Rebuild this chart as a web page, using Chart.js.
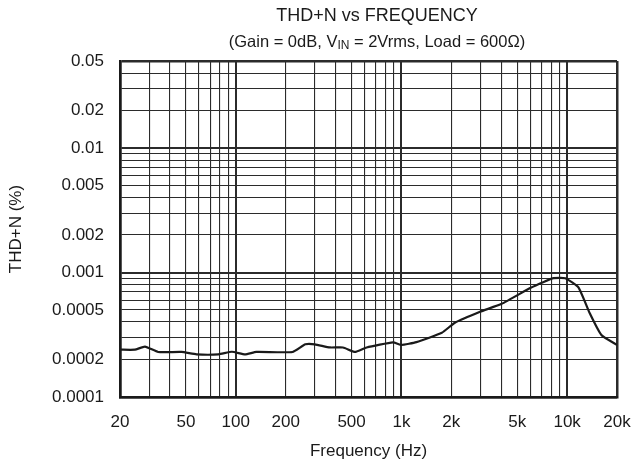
<!DOCTYPE html>
<html>
<head>
  <script src="https://cdn.jsdelivr.net/npm/chart.js@4"></script>
  <style>
    html, body { margin: 0; padding: 0; background: #fff; }
  </style>
</head>
<body>
  <canvas id="thd" width="633" height="466"></canvas>
  <script>
    // frequency (Hz) and THD+N (%)
    const freqHz = [20, 24.6, 28.3, 34, 47, 58, 78.6, 94.7, 113.7, 133, 220, 263, 300, 370, 444, 524, 616, 889, 1000, 1231, 1753, 2100, 2980, 4025, 5980, 7220, 8300, 9750, 11700, 13700, 16100, 20000];
    const thdPct = [0.00024, 0.00024, 0.000254, 0.00023, 0.00023, 0.00022, 0.00022, 0.000231, 0.00022, 0.00023, 0.00023, 0.000265, 0.000265, 0.00025, 0.00025, 0.00023, 0.00025, 0.000275, 0.000262, 0.000276, 0.000328, 0.000395, 0.000484, 0.00056, 0.00075, 0.00084, 0.0009, 0.0009, 0.00076, 0.00047, 0.000315, 0.000262];

    const xGrid = [20, 30, 40, 50, 60, 70, 80, 90, 100, 200, 300, 400, 500, 600, 700, 800, 900, 1000, 2000, 3000, 4000, 5000, 6000, 7000, 8000, 9000, 10000, 20000];
    const xLabelVals = [20, 50, 100, 200, 500, 1000, 2000, 5000, 10000, 20000];
    const xLabelText = ['20', '50', '100', '200', '500', '1k', '2k', '5k', '10k', '20k'];

    const yGrid = [0.0001, 0.0002, 0.0003, 0.0004, 0.0005, 0.0006, 0.0007, 0.0008, 0.0009, 0.001, 0.002, 0.003, 0.004, 0.005, 0.006, 0.007, 0.008, 0.009, 0.01, 0.02, 0.03, 0.04, 0.05];
    const yLabelVals = [0.0001, 0.0002, 0.0005, 0.001, 0.002, 0.005, 0.01, 0.02, 0.05];
    const yLabelText = ['0.0001', '0.0002', '0.0005', '0.001', '0.002', '0.005', '0.01', '0.02', '0.05'];

    const FONT = '"Liberation Sans", Arial, sans-serif';
    const INK = '#1a1a1a';

    function near(a, b) { return Math.abs(a - b) / b < 1e-6; }
    function labelFor(v, vals, texts) {
      const i = vals.findIndex(t => near(v, t));
      return i < 0 ? '' : texts[i];
    }
    function gridWidth(v, decades, edges) {
      if (edges.some(e => near(v, e))) return 2.5;
      if (decades.some(d => near(v, d))) return 2;
      return 1.1;
    }

    const titles = {
      id: 'titles',
      afterDraw(chart) {
        const c = chart.ctx;
        const cx = 377;
        c.save();
        c.fillStyle = INK;
        c.textBaseline = 'middle';
        c.textAlign = 'center';
        c.font = '18px ' + FONT;
        c.fillText('THD+N vs FREQUENCY', cx, 16);

        const a = '(Gain = 0dB, V', sub = 'IN', b = ' = 2Vrms, Load = 600\u03A9)';
        const big = '16.5px ' + FONT, small = '12px ' + FONT;
        c.font = big; const wa = c.measureText(a).width, wb = c.measureText(b).width;
        c.font = small; const ws = c.measureText(sub).width;
        let x = cx - (wa + ws + wb) / 2;
        c.textAlign = 'left';
        c.font = big; c.fillText(a, x, 42); x += wa;
        c.font = small; c.fillText(sub, x, 46); x += ws;
        c.font = big; c.fillText(b, x, 42);
        c.restore();
      }
    };

    new Chart(document.getElementById('thd'), {
      type: 'line',
      data: {
        datasets: [{
          data: freqHz.map((f, i) => ({ x: f, y: thdPct[i] })),
          borderColor: INK,
          borderWidth: 2.2,
          pointRadius: 0,
          tension: 0.15,
          fill: false
        }]
      },
      options: {
        responsive: false,
        animation: false,
        layout: { padding: { top: 61, right: 16, left: 0, bottom: 0 } },
        plugins: { legend: { display: false }, tooltip: { enabled: false }, title: { display: false } },
        scales: {
          x: {
            type: 'logarithmic',
            min: 20,
            max: 20000,
            afterBuildTicks: s => { s.ticks = xGrid.map(v => ({ value: v })); },
            afterFit: s => { s.height = 69; s.paddingLeft = 0; s.paddingRight = 0; },
            ticks: {
              autoSkip: false,
              maxRotation: 0,
              padding: 15,
              color: INK,
              font: { family: FONT, size: 17 },
              callback: v => labelFor(v, xLabelVals, xLabelText)
            },
            grid: {
              drawTicks: false,
              color: '#2b2b2b',
              lineWidth: ctx => gridWidth(ctx.tick ? ctx.tick.value : 0, [100, 1000, 10000], [20, 20000])
            },
            border: { width: 2.5, color: INK },
            title: {
              display: true,
              text: 'Frequency (Hz)',
              color: INK,
              font: { family: FONT, size: 17 },
              padding: { top: 0, bottom: 4 }
            }
          },
          y: {
            type: 'logarithmic',
            min: 0.0001,
            max: 0.05,
            afterBuildTicks: s => { s.ticks = yGrid.map(v => ({ value: v })); },
            afterFit: s => { s.width = 120; },
            ticks: {
              autoSkip: false,
              padding: 16,
              color: INK,
              font: { family: FONT, size: 17 },
              callback: v => labelFor(v, yLabelVals, yLabelText)
            },
            grid: {
              drawTicks: false,
              color: '#2b2b2b',
              lineWidth: ctx => gridWidth(ctx.tick ? ctx.tick.value : 0, [0.001, 0.01], [0.0001, 0.05])
            },
            border: { width: 2.5, color: INK },
            title: {
              display: true,
              text: 'THD+N (%)',
              color: INK,
              font: { family: FONT, size: 17 },
              padding: { top: 6, bottom: 0 }
            }
          }
        }
      },
      plugins: [titles]
    });
  </script>
</body>
</html>
